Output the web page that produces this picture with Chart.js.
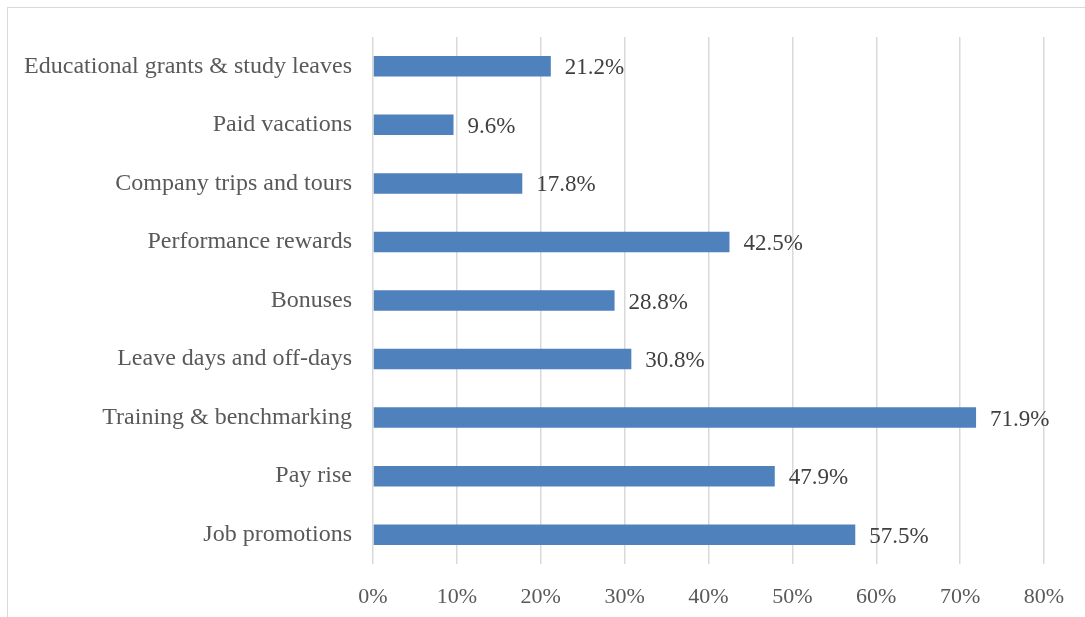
<!DOCTYPE html>
<html>
<head>
<meta charset="utf-8">
<script src="https://cdn.jsdelivr.net/npm/chart.js@4"></script>
<style>
  html, body { margin: 0; padding: 0; background: #fff; }
  #wrap { position: relative; width: 1085px; height: 617px; }
  #frame { position: absolute; left: 7px; top: 7px; right: 0; bottom: 0;
           border-top: 1px solid #d9d9d9; border-left: 1px solid #d9d9d9; }
  canvas { position: absolute; left: 0; top: 0; }
</style>
</head>
<body>
<div id="wrap">
  <div id="frame"></div>
  <canvas id="c" width="1085" height="617"></canvas>
</div>
<script>
// Reward types, listed top to bottom as they appear on the axis
const categories = [
  "Educational grants & study leaves",
  "Paid vacations",
  "Company trips and tours",
  "Performance rewards",
  "Bonuses",
  "Leave days and off-days",
  "Training & benchmarking",
  "Pay rise",
  "Job promotions"
];
const shares = [21.2, 9.6, 17.8, 42.5, 28.8, 30.8, 71.9, 47.9, 57.5];
const tickValues = [0, 10, 20, 30, 40, 50, 60, 70, 80];

const FONT = "'Liberation Serif', 'Times New Roman', serif";

// Writes each bar's percentage just past its end
const valueLabels = {
  id: 'valueLabels',
  afterDatasetsDraw(chart) {
    const ctx = chart.ctx;
    const meta = chart.getDatasetMeta(0);
    ctx.save();
    ctx.font = "23px " + FONT;
    ctx.fillStyle = '#404040';
    ctx.textAlign = 'left';
    ctx.textBaseline = 'middle';
    meta.data.forEach((bar, i) => {
      ctx.fillText(shares[i].toFixed(1) + '%', bar.x + 14, bar.y + 2);
    });
    ctx.restore();
  }
};

new Chart(document.getElementById('c'), {
  type: 'bar',
  data: {
    labels: categories,
    datasets: [{
      data: shares,
      backgroundColor: '#4f81bd',
      borderWidth: 0,
      categoryPercentage: 1,
      barPercentage: 0.35
    }]
  },
  options: {
    indexAxis: 'y',
    responsive: false,
    animation: false,
    layout: { padding: { top: 37, right: 41, left: 0, bottom: 0 } },
    plugins: { legend: { display: false }, tooltip: { enabled: false } },
    scales: {
      x: {
        min: 0,
        max: 80,
        afterBuildTicks(scale) { scale.ticks = tickValues.map(v => ({ value: v })); },
        afterFit(scale) { scale.height = 53; },
        grid: { color: '#d9d9d9', lineWidth: 1.5, drawTicks: false },
        border: { display: false },
        ticks: {
          padding: 20,
          color: '#595959',
          font: { family: FONT, size: 22 },
          callback: v => v + '%'
        }
      },
      y: {
        afterFit(scale) { scale.width = 373; },
        grid: { display: false, drawTicks: false },
        border: { display: false },
        ticks: {
          padding: 21,
          color: '#595959',
          font: { family: FONT, size: 24 }
        }
      }
    }
  },
  plugins: [valueLabels]
});
</script>
</body>
</html>
